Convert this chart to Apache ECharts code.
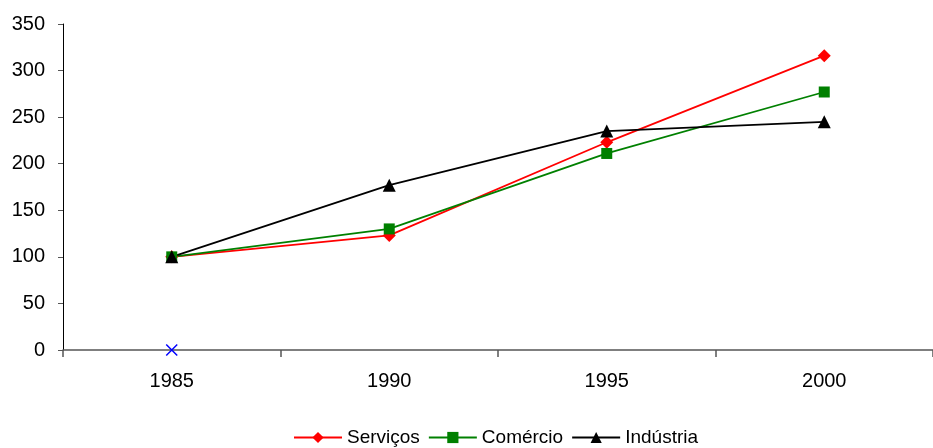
<!DOCTYPE html>
<html>
<head>
<meta charset="utf-8">
<style>
  html, body { margin: 0; padding: 0; background: #fff; }
  #chart { width: 933px; height: 448px; }
</style>
<script src="https://cdn.jsdelivr.net/npm/echarts@6/dist/echarts.min.js"></script>
</head>
<body>
<div id="chart"></div>
<script>
// Index values (1985 = 100)
const years = ['1985', '1990', '1995', '2000'];
const servicos = [100, 123, 223, 316];
const comercio = [100, 130, 211, 277];
const industria = [100, 177, 235, 245];
const marcador = [0, null, null, null];
const yTicks = { min: 0, max: 350, interval: 50 };

const font = 'Liberation Sans, Arial, sans-serif';
const chart = echarts.init(document.getElementById('chart'));

chart.setOption({
  animation: false,
  backgroundColor: '#ffffff',
  grid: { left: 63, top: 24, bottom: 98, width: 872 },
  legend: {
    data: ['Serviços', 'Comércio', 'Indústria'],
    left: 288,
    top: 423,
    itemWidth: 48,
    itemHeight: 14,
    itemGap: 8,
    textStyle: { fontFamily: font, fontSize: 19, color: '#000' }
  },
  xAxis: {
    type: 'category',
    data: years,
    boundaryGap: true,
    axisLine: { lineStyle: { color: '#555', width: 1.5 } },
    axisTick: { show: true, length: 7, lineStyle: { color: '#555', width: 1.5 } },
    axisLabel: { fontFamily: font, fontSize: 20, color: '#000', margin: 21 },
    splitLine: { show: false }
  },
  yAxis: {
    type: 'value',
    min: yTicks.min,
    max: yTicks.max,
    interval: yTicks.interval,
    axisLine: { show: true, lineStyle: { color: '#000', width: 1 } },
    axisTick: { show: true, length: 5, lineStyle: { color: '#555' } },
    axisLabel: { fontFamily: font, fontSize: 20, color: '#000', margin: 18 },
    splitLine: { show: false }
  },
  series: [
    {
      name: 'Serviços',
      type: 'line',
      data: servicos,
      symbol: 'diamond',
      symbolSize: 13,
      lineStyle: { color: '#ff0000', width: 1.8 },
      itemStyle: { color: '#ff0000' }
    },
    {
      name: 'Comércio',
      type: 'line',
      data: comercio,
      symbol: 'rect',
      symbolSize: 11,
      lineStyle: { color: '#008000', width: 1.8 },
      itemStyle: { color: '#008000' }
    },
    {
      name: 'Indústria',
      type: 'line',
      data: industria,
      symbol: 'triangle',
      symbolSize: 13,
      lineStyle: { color: '#000000', width: 1.8 },
      itemStyle: { color: '#000000' }
    },
    {
      name: 'marcador',
      type: 'line',
      data: marcador,
      symbol: 'path://M0,0L10,10M10,0L0,10',
      symbolSize: 11,
      lineStyle: { width: 0 },
      itemStyle: { color: 'none', borderColor: '#0000ff', borderWidth: 1.5 },
      z: 5
    }
  ]
});
</script>
</body>
</html>
